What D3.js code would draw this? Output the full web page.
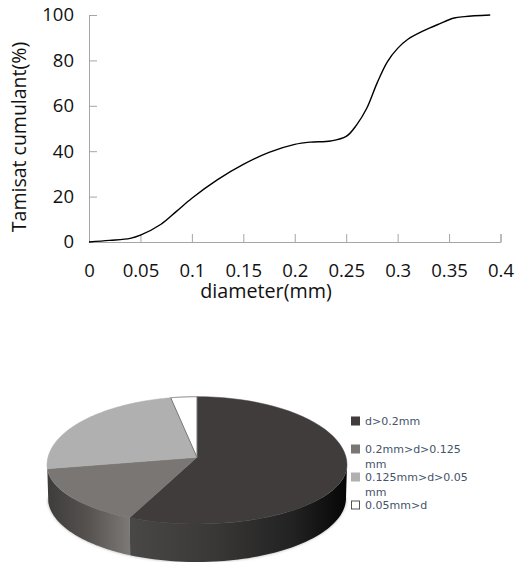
<!DOCTYPE html>
<html>
<head>
<meta charset="utf-8">
<script src="https://cdn.jsdelivr.net/npm/d3@7"></script>
<style>
  html, body { margin: 0; padding: 0; background: #fff; }
  svg { display: block; }
  text { font-family: "Open Sans", Lato, sans-serif; fill: #111; }
  .legend text { font-family: "DejaVu Sans", sans-serif; font-size: 11px; fill: #44546a; }
</style>
</head>
<body>
<svg width="517" height="562"></svg>
<script>
// curve values
var diameters = [0, 0.02, 0.04, 0.05, 0.07, 0.085, 0.1, 0.125, 0.15, 0.175, 0.2, 0.215, 0.235, 0.25, 0.26, 0.27, 0.28, 0.29, 0.3, 0.31, 0.325, 0.34, 0.355, 0.365, 0.39];
var cumulative = [0, 0.7, 1.6, 3, 7.8, 13.5, 19.3, 27.5, 34.2, 39.5, 43, 44, 44.5, 46.5, 51.5, 58.9, 70, 79.4, 85.3, 89.3, 93, 96, 98.7, 99.3, 100];
var xTicks = [0, 0.05, 0.1, 0.15, 0.2, 0.25, 0.3, 0.35, 0.4];
var yTicks = [0, 20, 40, 60, 80, 100];

// pie
var pieValues = [57.4, 16.6, 23.2, 2.8];
var pieLabels = [["d>0.2mm"], ["0.2mm>d>0.125", "mm"], ["0.125mm>d>0.05", "mm"], ["0.05mm>d"]];
var pieColors = ["#403c3b", "#7a7674", "#b0b0b0", "#ffffff"];

var svg = d3.select("svg");

var x = d3.scaleLinear().domain([0, 0.4]).range([89, 500.5]);
var y = d3.scaleLinear().domain([0, 100]).range([242, 15]);

var xAxis = d3.axisBottom(x).tickValues(xTicks).tickFormat(function(d) { return String(d); }).tickSize(-8).tickPadding(22);
var yAxis = d3.axisLeft(y).tickValues(yTicks).tickSize(-8).tickPadding(15);

svg.append("g").attr("transform", "translate(0,242)").call(xAxis);
svg.append("g").attr("transform", "translate(89,0)").call(yAxis);
svg.selectAll(".domain").attr("stroke", "#a6a6a6").attr("stroke-width", 1);
svg.selectAll(".tick line").attr("stroke", "#a6a6a6");
svg.selectAll(".tick text").style("font-size", "18.5px").attr("fill", "#111");

var line = d3.line()
    .x(function(d, i) { return x(diameters[i]); })
    .y(function(d) { return y(d); })
    .curve(d3.curveCatmullRom.alpha(0.5));

svg.append("path")
    .attr("d", line(cumulative))
    .attr("fill", "none")
    .attr("stroke", "#000")
    .attr("stroke-width", 1.4);

svg.append("text")
    .attr("x", 266).attr("y", 298)
    .attr("text-anchor", "middle")
    .style("font-size", "19.7px")
    .text("diameter(mm)");

svg.append("text")
    .attr("transform", "translate(26,137) rotate(-90)")
    .attr("text-anchor", "middle")
    .style("font-size", "19.5px")
    .text("Tamisat cumulant(%)");

// 3D pie: top ellipse plus a side wall. The back half is stretched a bit for the perspective
var top3d = { cx: 197, cy: 465, rx: 150, ryBack: 68.3, ryFront: 59, apexY: 457.3 };
var bottom3d = { cx: 197, cy: 498, rx: 149, ryBack: 64, ryFront: 64 };

var defs = svg.append("defs");
defs.append("filter").attr("id", "soft").attr("x", "-10%").attr("y", "-10%").attr("width", "120%").attr("height", "130%")
    .append("feGaussianBlur").attr("stdDeviation", 1.5);

function gradient(id, x1, x2, stops) {
    var g = defs.append("linearGradient").attr("id", id)
        .attr("gradientUnits", "userSpaceOnUse")
        .attr("x1", x1).attr("x2", x2).attr("y1", 0).attr("y2", 0);
    stops.forEach(function(s) {
        g.append("stop").attr("offset", s[0]).attr("stop-color", s[1]);
    });
}
gradient("sideDark", 129, 347, [[0, "#4a4846"], [0.35, "#3c3a39"], [0.75, "#222"], [1, "#060606"]]);
gradient("sideMid", 47, 129, [[0, "#3e3c3b"], [0.5, "#555250"], [1, "#7c7876"]]);

var arcs = d3.pie().sort(null)(pieValues);

function onEllipse(e, a) {
    var c = Math.cos(a);
    return [e.cx + e.rx * Math.sin(a), e.cy - (c > 0 ? e.ryBack : e.ryFront) * c];
}
function arcPoints(e, a0, a1) {
    return d3.range(0, 61).map(function(i) {
        return onEllipse(e, a0 + (a1 - a0) * i / 60);
    });
}
var poly = d3.line();

// soft shadow under the wall
svg.append("path")
    .attr("d", poly(arcPoints(bottom3d, Math.PI / 2, Math.PI * 1.5)) + "Z")
    .attr("fill", "#aaa").attr("filter", "url(#soft)");

var sideFills = ["url(#sideDark)", "url(#sideMid)"];
[0, 1].forEach(function(i) {
    var a0 = Math.max(arcs[i].startAngle, Math.PI / 2);
    var a1 = Math.min(arcs[i].endAngle, Math.PI * 1.5);
    var pts = arcPoints(top3d, a0, a1).concat(arcPoints(bottom3d, a0, a1).reverse());
    svg.append("path").attr("d", poly(pts) + "Z").attr("fill", sideFills[i]);
});

svg.selectAll(".slice")
    .data(arcs)
    .enter().append("path")
    .attr("class", "slice")
    .attr("d", function(d) {
        return poly([[top3d.cx, top3d.apexY]].concat(arcPoints(top3d, d.startAngle, d.endAngle))) + "Z";
    })
    .attr("fill", function(d, i) { return pieColors[i]; })
    .attr("stroke", function(d, i) { return i === 3 ? "#777" : pieColors[i]; })
    .attr("stroke-width", function(d, i) { return i === 3 ? 1 : 0.5; });

// legend
var rowY = d3.scalePoint().domain(d3.range(pieLabels.length)).range([421, 505]);

var legend = svg.selectAll(".legend")
    .data(pieLabels)
    .enter().append("g")
    .attr("class", "legend")
    .attr("transform", function(d, i) { return "translate(351," + rowY(i) + ")"; });

legend.append("rect")
    .attr("x", 0.5).attr("y", -4).attr("width", 8).attr("height", 8)
    .attr("fill", function(d, i) { return pieColors[i]; })
    .attr("stroke", function(d, i) { return i === 3 ? "#555" : pieColors[i]; });

legend.selectAll("text")
    .data(function(d) { return d; })
    .enter().append("text")
    .attr("x", 14)
    .attr("y", function(d, i) { return 4 + i * 15; })
    .text(function(d) { return d; });
</script>
</body>
</html>
